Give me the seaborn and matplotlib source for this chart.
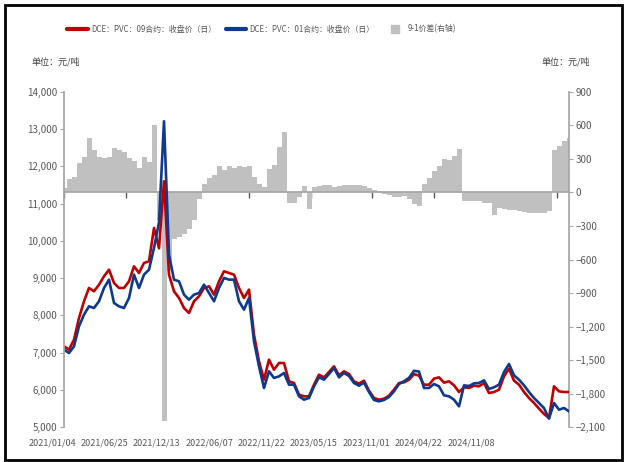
import matplotlib
matplotlib.use('Agg')
import matplotlib.pyplot as plt
from matplotlib.lines import Line2D
from matplotlib.patches import Rectangle
from matplotlib.ticker import FuncFormatter
import numpy as np
import pandas as pd
import seaborn as sns

# PVC 09 / 01 contract close (yuan/ton), sampled about every 4-5 trading days
pvc_09 = [7167, 7078, 7346, 7929, 8377, 8735, 8645, 8824, 9048, 9227, 8869, 8735, 8735, 8914, 9317, 9138, 9407,
          9451, 10347, 9800, 11601, 9093, 8645, 8466, 8197, 8063, 8377, 8511, 8735, 8780, 8556, 8914, 9183, 9138,
          9093, 8735, 8466, 8690, 7481, 6764, 6272, 6809, 6540, 6719, 6719, 6227, 6182, 5869, 5824, 5824, 6137,
          6406, 6334, 6478, 6630, 6388, 6496, 6424, 6227, 6164, 6245, 5976, 5779, 5734, 5761, 5842, 6003, 6182,
          6200, 6270, 6420, 6380, 6137, 6137, 6299, 6334, 6191, 6227, 6119, 5940, 6066, 6048, 6110, 6093, 6182,
          5913, 5940, 6003, 6361, 6567, 6245, 6137, 5940, 5779, 5645, 5493, 5349, 5242, 6093, 5958, 5940, 5940]
pvc_01 = [7078, 6988, 7167, 7705, 8018, 8242, 8197, 8377, 8735, 8959, 8332, 8242, 8197, 8466, 9093, 8735, 9093,
          9227, 9810, 10500, 13213, 9630, 8959, 8914, 8556, 8421, 8556, 8600, 8824, 8600, 8377, 8735, 9004, 8959,
          8959, 8377, 8153, 8466, 7302, 6630, 6048, 6496, 6317, 6361, 6451, 6137, 6137, 5824, 5734, 5779, 6092,
          6334, 6272, 6424, 6585, 6334, 6451, 6370, 6182, 6110, 6191, 5940, 5725, 5689, 5725, 5806, 5958, 6155,
          6230, 6320, 6510, 6490, 6048, 6048, 6155, 6092, 5851, 5824, 5734, 5555, 6119, 6101, 6173, 6182, 6254,
          6021, 6066, 6137, 6478, 6693, 6388, 6272, 6119, 5940, 5779, 5645, 5510, 5224, 5645, 5466, 5510, 5421]
# 9-1 spread (right axis)
spread_91 = [40, 120, 135, 260, 320, 490, 380, 320, 310, 320, 400, 380, 365, 305, 280, 220, 320,
             270, 600, -250, -2050, -700, -420, -400, -370, -330, -250, -60, 80, 130, 160, 240, 200, 240,
             220, 240, 225, 240, 140, 75, 45, 210, 250, 410, 540, -90, -90, -40, 60, -150, 50,
             60, 70, 70, 50, 60, 65, 65, 70, 65, 55, 40, 25, 10, -10, -20, -40, -40,
             -30, -60, -100, -120, 80, 130, 190, 240, 300, 290, 330, 390, -75, -75, -75, -78, -90,
             -90, -200, -140, -150, -155, -160, -165, -175, -180, -185, -185, -180, -170, 385, 420, 460, 490]

date_labels = ['2021/01/04', '2021/06/25', '2021/12/13', '2022/06/07', '2022/11/22',
               '2023/05/15', '2023/11/01', '2024/04/22', '2024/11/08']

df = pd.DataFrame({'t': np.arange(len(pvc_09)), 'p09': pvc_09, 'p01': pvc_01, 'spread': spread_91})

sns.set_theme(style='white')
plt.rcParams['font.family'] = ['Noto Sans CJK SC', 'DejaVu Sans']
plt.rcParams['axes.unicode_minus'] = False

RED = '#C00000'
BLUE = '#0D3A8C'
GRAY = '#C0C0C0'
TXT = '#595959'
W, H = 629, 462

fig = plt.figure(figsize=(W / 100, H / 100), dpi=100)
ax = fig.add_axes([64 / W, 35 / H, 505 / W, 335 / H])
ax2 = ax.twinx()
ax.set_zorder(2)
ax2.set_zorder(1)
ax.patch.set_visible(False)

sns.barplot(data=df, x='t', y='spread', ax=ax2, color=GRAY, width=1.0, linewidth=0,
            saturation=1, errorbar=None, native_scale=True)
sns.lineplot(data=df, x='t', y='p09', ax=ax, color=RED, lw=1.9)
sns.lineplot(data=df, x='t', y='p01', ax=ax, color=BLUE, lw=1.9)

ax.set_xlim(0, len(df) - 1)
ax.set_ylim(5000, 14000)
ax.set_yticks(range(5000, 14001, 1000))
ax2.set_ylim(-2100, 900)
ax2.set_yticks(range(-2100, 901, 300))
fmt = FuncFormatter(lambda v, p: f'{int(v):,}'.replace('-', '\u2212'))
ax.yaxis.set_major_formatter(fmt)
ax2.yaxis.set_major_formatter(fmt)
for a in (ax, ax2):
    a.set_xlabel('')
    a.set_ylabel('')

# x tick marks sit on the zero line of the spread axis
ax.set_xticks(np.linspace(0, 98.6, 9))
ax.set_xticklabels([''] * 9)
ax.tick_params(axis='x', length=0, labelbottom=False)
ax2.xaxis.set_visible(True)
ax2.tick_params(axis='x', bottom=True, length=4, width=1, color='#595959', direction='out', labelbottom=False)

for s in ('top', 'right', 'bottom'):
    ax.spines[s].set_visible(False)
for s in ('top', 'left'):
    ax2.spines[s].set_visible(False)
ax2.spines['bottom'].set_position(('data', 0))
ax2.spines['bottom'].set_color('#A6A6A6')
ax.spines['left'].set_color('#A6A6A6')
ax2.spines['right'].set_color('#A6A6A6')

ax.tick_params(axis='y', left=True, length=3, width=0.8, color='#A6A6A6', labelsize=7, labelcolor=TXT, pad=2)
ax2.tick_params(axis='y', right=True, length=3, width=0.8, color='#A6A6A6', labelsize=7, labelcolor=TXT, pad=2)

for pos, lab in zip(np.linspace(-2.4, 81.4, 9), date_labels):
    ax.text(pos, -0.048, lab, transform=ax.get_xaxis_transform(), ha='center', va='center',
            fontsize=6.5, color=TXT, clip_on=False)

fig.text(31 / W, 1 - 62 / H, '单位：元/吨', fontsize=6.5, color='#404040', va='center')
fig.text(542 / W, 1 - 62 / H, '单位：元/吨', fontsize=6.5, color='#404040', va='center')

handles = [Line2D([], [], color=RED, lw=3),
           Line2D([], [], color=BLUE, lw=3),
           Line2D([], [], color=GRAY, marker='s', ls='none', markersize=6)]
labels = ['DCE：PVC：09合约：收盘价（日）', 'DCE：PVC：01合约：收盘价（日）', '9-1价差(右轴)']
fig.legend(handles, labels, loc='center', bbox_to_anchor=(262 / W, 1 - 29 / H), ncol=3, frameon=False,
           fontsize=5.7, handlelength=2.6, columnspacing=1.2, handletextpad=0.4, labelcolor=TXT)

fig.add_artist(Rectangle((5 / W, 2 / H), 617 / W, 455 / H, transform=fig.transFigure,
                         fill=False, ec='black', lw=2))

fig.savefig('out.png', dpi=100)
